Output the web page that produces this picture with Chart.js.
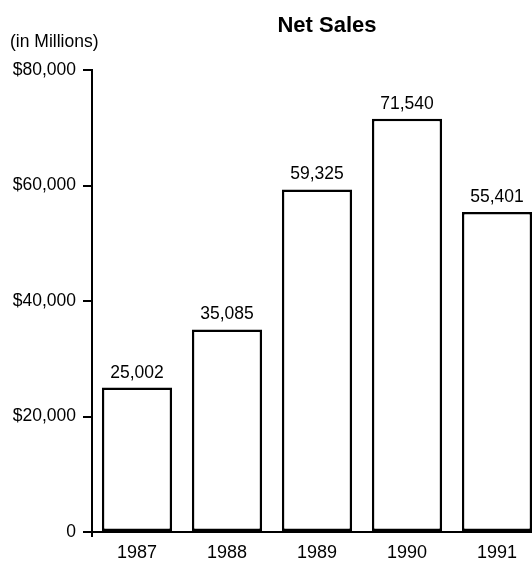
<!DOCTYPE html>
<html>
<head>
<meta charset="utf-8">
<script src="https://cdn.jsdelivr.net/npm/chart.js@4"></script>
<style>
  html,body{margin:0;padding:0;background:#fff;overflow:hidden;}
  #wrap{width:542px;height:561px;}
</style>
</head>
<body>
<div id="wrap"><canvas id="c" width="542" height="561"></canvas></div>
<script>
const categories = ['1987','1988','1989','1990','1991'];
const netSales = [25002, 35085, 59325, 71540, 55401];
const valueLabels = ['25,002','35,085','59,325','71,540','55,401'];
const yTicks = [0, 20000, 40000, 60000, 80000];
const yTickLabels = ['0','$20,000','$40,000','$60,000','$80,000'];
const titleText = 'Net Sales';
const unitText = '(in Millions)';

const FONT = '"Liberation Sans", Arial, Helvetica, sans-serif';

const textPlugin = {
  id: 'texts',
  afterDraw(chart) {
    const ctx = chart.ctx;
    const meta = chart.getDatasetMeta(0);
    ctx.save();
    ctx.fillStyle = '#000';
    ctx.font = '17.5px ' + FONT;
    ctx.textAlign = 'center';
    ctx.textBaseline = 'alphabetic';
    meta.data.forEach((el, i) => {
      ctx.fillText(valueLabels[i], el.x, el.y - 10);
    });
    ctx.textAlign = 'left';
    ctx.fillText(unitText, 10, 47);
    ctx.font = 'bold 22px ' + FONT;
    ctx.textAlign = 'center';
    ctx.fillText(titleText, 327, 32);
    const xa = chart.chartArea;
    ctx.strokeStyle = '#000';
    ctx.lineWidth = 2;
    ctx.beginPath();
    ctx.moveTo(xa.left, xa.bottom);
    ctx.lineTo(xa.left, xa.bottom + 5);
    ctx.stroke();
    ctx.restore();
  }
};

new Chart(document.getElementById('c'), {
  type: 'bar',
  data: {
    labels: categories,
    datasets: [{
      data: netSales,
      backgroundColor: '#fff',
      borderColor: '#000',
      borderWidth: 2.5,
      borderSkipped: false,
      barPercentage: 0.78,
      categoryPercentage: 1.0
    }]
  },
  options: {
    responsive: false,
    animation: false,
    layout: { padding: { top: 70, right: 0, bottom: 0, left: 0 } },
    plugins: { legend: { display: false }, title: { display: false }, tooltip: { enabled: false } },
    scales: {
      x: {
        offset: true,
        grid: { display: false, drawTicks: false },
        border: { display: true, color: '#000', width: 2 },
        ticks: { color: '#000', font: { family: FONT, size: 18 }, padding: 10, maxRotation: 0 },
        afterFit(scale) { scale.height = 29; }
      },
      y: {
        min: 0, max: 80000,
        afterBuildTicks(scale) { scale.ticks = yTicks.map(v => ({ value: v })); },
        grid: { drawOnChartArea: false, drawTicks: true, tickLength: 9, color: '#000', lineWidth: 2 },
        border: { display: true, color: '#000', width: 2 },
        ticks: {
          color: '#000', font: { family: FONT, size: 17.5 }, padding: 7,
          callback(v) { const i = yTicks.indexOf(v); return i >= 0 ? yTickLabels[i] : ''; }
        },
        afterFit(scale) { scale.width = 92; }
      }
    }
  },
  plugins: [textPlugin]
});
</script>
</body>
</html>
